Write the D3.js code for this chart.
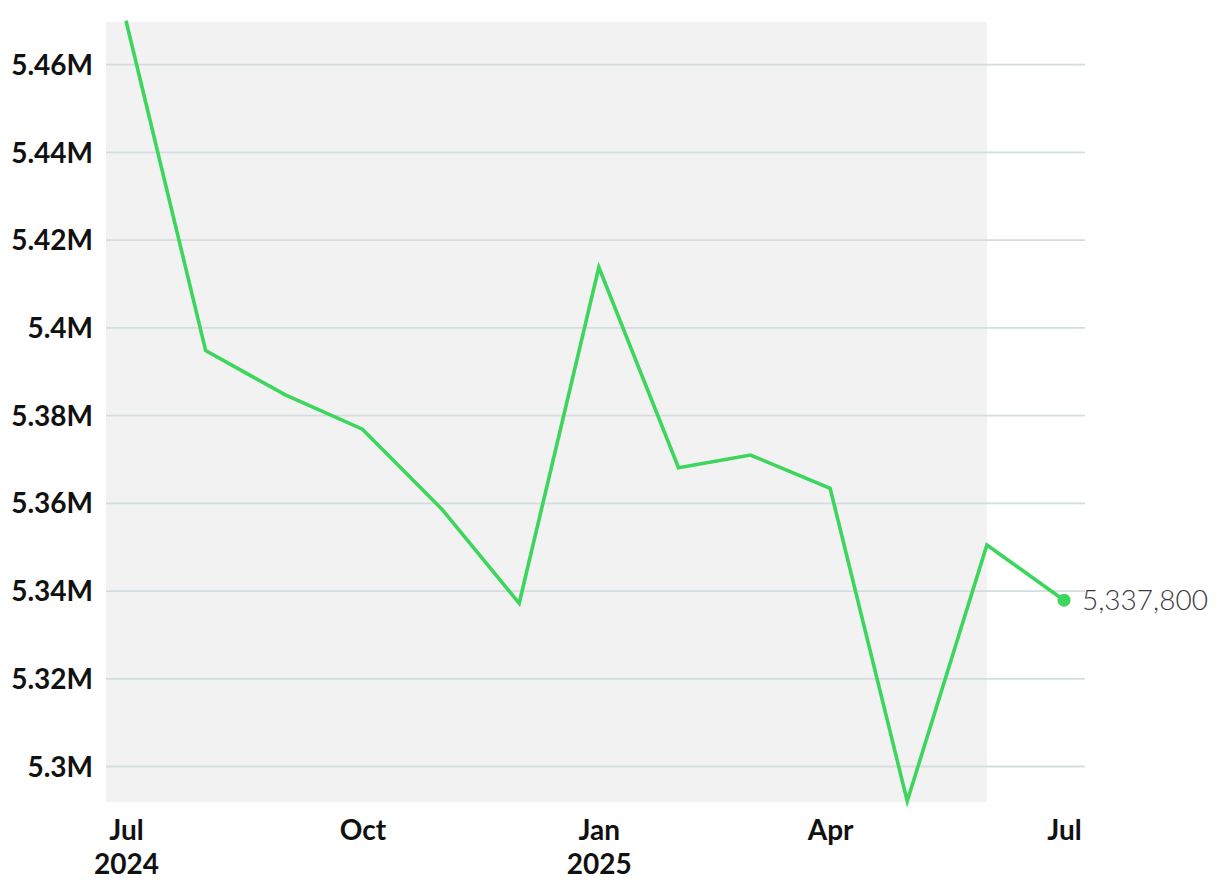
<!DOCTYPE html>
<html>
<head>
<meta charset="utf-8">
<script src="https://cdn.jsdelivr.net/npm/d3@7"></script>
<style>
  html, body { margin: 0; padding: 0; background: #ffffff; }
  svg { display: block; }
</style>
</head>
<body>
<svg id="chart" width="1220" height="892"></svg>
<script>
// ---- Data ----
const months = ["2024-07","2024-08","2024-09","2024-10","2024-11","2024-12",
                "2025-01","2025-02","2025-03","2025-04","2025-05","2025-06","2025-07"];
const values = [5469900, 5394700, 5384600, 5376800, 5358500, 5337100,
                5413700, 5368000, 5370900, 5363300, 5292000, 5350400, 5337800];
const yTicks = [5300000, 5320000, 5340000, 5360000, 5380000, 5400000, 5420000, 5440000, 5460000];
const yTickLabels = ["5.3M","5.32M","5.34M","5.36M","5.38M","5.4M","5.42M","5.44M","5.46M"];
const xTickMonths = ["2024-07","2024-10","2025-01","2025-04","2025-07"];
const xTickLabels = [["Jul","2024"],["Oct"],["Jan","2025"],["Apr"],["Jul"]];
const shadeEndMonth = "2025-06";
const lastLabel = "5,337,800";

// ---- Setup ----
const parse = d3.timeParse("%Y-%m");
const data = months.map((m, i) => ({ date: parse(m), value: values[i] }));

const svg = d3.select("#chart");
const plotLeft = 106, plotRight = 1085, plotTop = 22, plotBottom = 802;

const x = d3.scaleTime()
  .domain([parse("2024-07"), parse("2025-07")])
  .range([126, 1064]);
const y = d3.scaleLinear()
  .domain([5300000, 5460000])
  .range([766, 64.2]);

const green = "#3dd65d";
const fontFam = "Lato, 'Open Sans', sans-serif";

// shaded band
svg.append("rect")
  .attr("x", plotLeft)
  .attr("y", plotTop)
  .attr("width", x(parse(shadeEndMonth)) - plotLeft)
  .attr("height", plotBottom - plotTop)
  .attr("fill", "#f2f2f2");

// gridlines via axis
const yAxis = d3.axisLeft(y)
  .tickValues(yTicks)
  .tickSize(-(plotRight - plotLeft))
  .tickFormat((d, i) => yTickLabels[i]);

const gy = svg.append("g")
  .attr("transform", `translate(${plotLeft},0)`)
  .call(yAxis);
gy.select(".domain").remove();
gy.selectAll(".tick line")
  .attr("stroke", "#d3dde0")
  .attr("stroke-width", 1.8);
gy.selectAll(".tick text")
  .attr("x", -13)
  .attr("dy", "0.36em")
  .attr("fill", "#111")
  .style("font-family", fontFam)
  .style("font-size", "28px")
  .style("font-weight", 700);

// x axis
const xAxis = d3.axisBottom(x)
  .tickValues(xTickMonths.map(parse))
  .tickSize(0)
  .tickFormat("");
const gx = svg.append("g")
  .attr("transform", `translate(0,${plotBottom})`)
  .call(xAxis);
gx.select(".domain").remove();
gx.selectAll(".tick").each(function(d, i) {
  const t = d3.select(this).append("text")
    .attr("text-anchor", "middle")
    .attr("fill", "#111")
    .style("font-family", fontFam)
    .style("font-size", "28px")
    .style("font-weight", 700);
  xTickLabels[i].forEach((s, j) => {
    t.append("tspan").attr("x", 0).attr("y", 38 + j * 34).text(s);
  });
});

// line
const line = d3.line()
  .x(d => x(d.date))
  .y(d => y(d.value));
svg.append("path")
  .datum(data)
  .attr("d", line)
  .attr("fill", "none")
  .attr("stroke", green)
  .attr("stroke-width", 3.6)
  .attr("stroke-linejoin", "miter");

// last point
const last = data[data.length - 1];
svg.append("circle")
  .attr("cx", x(last.date))
  .attr("cy", y(last.value))
  .attr("r", 6.5)
  .attr("fill", green);
svg.append("text")
  .attr("x", x(last.date) + 18)
  .attr("y", y(last.value))
  .attr("dy", "0.36em")
  .attr("fill", "#3a3a3a")
  .style("font-family", fontFam)
  .style("font-size", "28px")
  .style("font-weight", 300)
  .text(lastLabel);
</script>
</body>
</html>
